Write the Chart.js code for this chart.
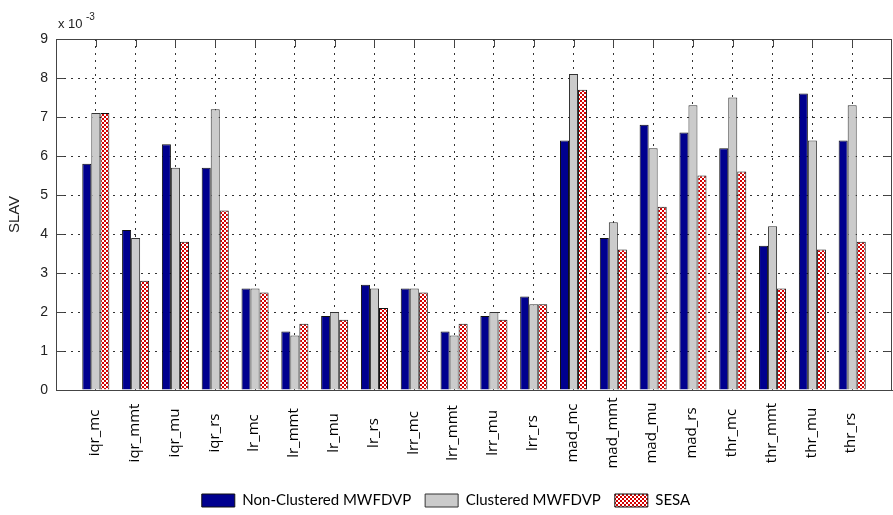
<!DOCTYPE html>
<html>
<head>
<meta charset="utf-8">
<script src="https://cdn.jsdelivr.net/npm/chart.js@4.4.1/dist/chart.umd.min.js"></script>
<style>
  body { margin: 0; background: #fff; }
  #chart { display: block; }
</style>
</head>
<body>
<canvas id="chart" width="893" height="515"></canvas>
<script>
// SLAV values, in units of 10^-3
const categories = ['iqr_mc', 'iqr_mmt', 'iqr_mu', 'iqr_rs', 'lr_mc', 'lr_mmt', 'lr_mu', 'lr_rs',
    'lrr_mc', 'lrr_mmt', 'lrr_mu', 'lrr_rs', 'mad_mc', 'mad_mmt', 'mad_mu', 'mad_rs',
    'thr_mc', 'thr_mmt', 'thr_mu', 'thr_rs'];
const nonClustered = [5.8, 4.1, 6.3, 5.7, 2.6, 1.5, 1.9, 2.7, 2.6, 1.5, 1.9, 2.4, 6.4, 3.9, 6.8, 6.6, 6.2, 3.7, 7.6, 6.4];
const clustered = [7.1, 3.9, 5.7, 7.2, 2.6, 1.4, 2.0, 2.6, 2.6, 1.4, 2.0, 2.2, 8.1, 4.3, 6.2, 7.3, 7.5, 4.2, 6.4, 7.3];
const sesa = [7.1, 2.8, 3.8, 4.6, 2.5, 1.7, 1.8, 2.1, 2.5, 1.7, 1.8, 2.2, 7.7, 3.6, 4.7, 5.5, 5.6, 2.6, 3.6, 3.8];
const yTicks = [0, 1, 2, 3, 4, 5, 6, 7, 8, 9];

const canvas = document.getElementById('chart');
const ctx = canvas.getContext('2d');

// red/white checker fill for SESA
function checker() {
    const c = document.createElement('canvas');
    c.width = 4;
    c.height = 4;
    const g = c.getContext('2d');
    g.fillStyle = '#ffffff';
    g.fillRect(0, 0, 4, 4);
    g.fillStyle = '#d40000';
    g.fillRect(0, 0, 2, 2);
    g.fillRect(2, 2, 2, 2);
    return ctx.createPattern(c, 'repeat');
}

// empty slot on each side, like matlab's xlim [0 n+1]
const labels = ['', ...categories, ''];
const pad = arr => [null, ...arr, null];

const gridColor = '#333333';
const axisColor = '#444444';

const boxPlugin = {
    id: 'box',
    afterDraw(chart) {
        const c = chart.ctx;
        const a = chart.chartArea;
        const x = chart.scales.x;
        const y = chart.scales.y;
        c.save();
        c.strokeStyle = axisColor;
        c.lineWidth = 1;
        c.strokeRect(a.left + 0.5, a.top + 0.5, a.right - a.left - 1, a.bottom - a.top);
        c.beginPath();
        yTicks.forEach(v => {
            const py = Math.round(y.getPixelForValue(v)) + 0.5;
            c.moveTo(a.left, py);
            c.lineTo(a.left + 8, py);
            c.moveTo(a.right, py);
            c.lineTo(a.right - 8, py);
        });
        categories.forEach((_, i) => {
            const px = Math.round(x.getPixelForValue(i + 1)) + 0.5;
            c.moveTo(px, a.top);
            c.lineTo(px, a.top + 8);
        });
        c.stroke();

        // x tick labels, centred like matlab's rotated text
        c.fillStyle = '#000';
        c.font = '15px "Open Sans"';
        c.textAlign = 'center';
        c.textBaseline = 'middle';
        categories.forEach((name, i) => {
            const px = x.getPixelForValue(i + 1);
            c.save();
            c.translate(px - 1, a.bottom + 43);
            c.rotate(-Math.PI / 2);
            c.fillText(name, 0, 0);
            c.restore();
        });

        // exponent note
        c.textAlign = 'left';
        c.textBaseline = 'alphabetic';
        c.fillStyle = '#222';
        c.font = '13px "Liberation Sans"';
        c.fillText('x 10', a.left + 2, a.top - 11);
        c.font = '10px "Liberation Sans"';
        c.fillText('-3', a.left + 2 + c.measureText('x 10').width + 9, a.top - 19);
        c.restore();
    }
};

const chart = new Chart(ctx, {
    type: 'bar',
    data: {
        labels: labels,
        datasets: [
            {
                label: 'Non-Clustered MWFDVP',
                data: pad(nonClustered),
                backgroundColor: '#00008f',
                borderColor: '#111111',
                borderWidth: 1
            },
            {
                label: 'Clustered MWFDVP',
                data: pad(clustered),
                backgroundColor: '#cbcbcb',
                borderColor: '#333333',
                borderWidth: 1
            },
            {
                label: 'SESA',
                data: pad(sesa),
                backgroundColor: checker(),
                borderColor: '#111111',
                borderWidth: 1
            }
        ]
    },
    options: {
        responsive: false,
        animation: false,
        devicePixelRatio: 1,
        layout: {
            padding: { top: 39, right: 1, left: 0, bottom: -3 }
        },
        datasets: {
            bar: {
                categoryPercentage: 0.68,
                barPercentage: 1
            }
        },
        plugins: {
            legend: {
                position: 'bottom',
                labels: {
                    boxWidth: 33,
                    boxHeight: 13,
                    padding: 14,
                    color: '#000',
                    font: { family: 'Lato', size: 15 }
                }
            },
            tooltip: { enabled: false }
        },
        scales: {
            x: {
                offset: false,
                grid: {
                    offset: false,
                    drawTicks: false,
                    color: c => (c.index === 0 || c.index === labels.length - 1) ? 'rgba(0,0,0,0)' : gridColor
                },
                border: { display: true, color: axisColor, width: 1, dash: [2, 5] },
                ticks: { display: false },
                afterFit(s) {
                    const legendH = s.chart.legend ? s.chart.legend.height : 0;
                    s.height = s.chart.height - 390 - legendH + 3;
                }
            },
            y: {
                min: 0,
                max: 9,
                afterBuildTicks(s) {
                    s.ticks = yTicks.map(v => ({ value: v }));
                },
                grid: {
                    drawTicks: false,
                    color: gridColor
                },
                border: { display: true, color: axisColor, width: 1, dash: [2, 5] },
                ticks: {
                    padding: 8,
                    color: '#222',
                    font: { family: 'Liberation Sans', size: 14 }
                },
                title: {
                    display: true,
                    text: 'SLAV',
                    color: '#222',
                    padding: { top: 6, bottom: 0 },
                    font: { family: 'Liberation Sans', size: 15 }
                },
                afterFit(s) {
                    s.width = 56;
                }
            }
        }
    },
    plugins: [boxPlugin]
});
</script>
</body>
</html>
